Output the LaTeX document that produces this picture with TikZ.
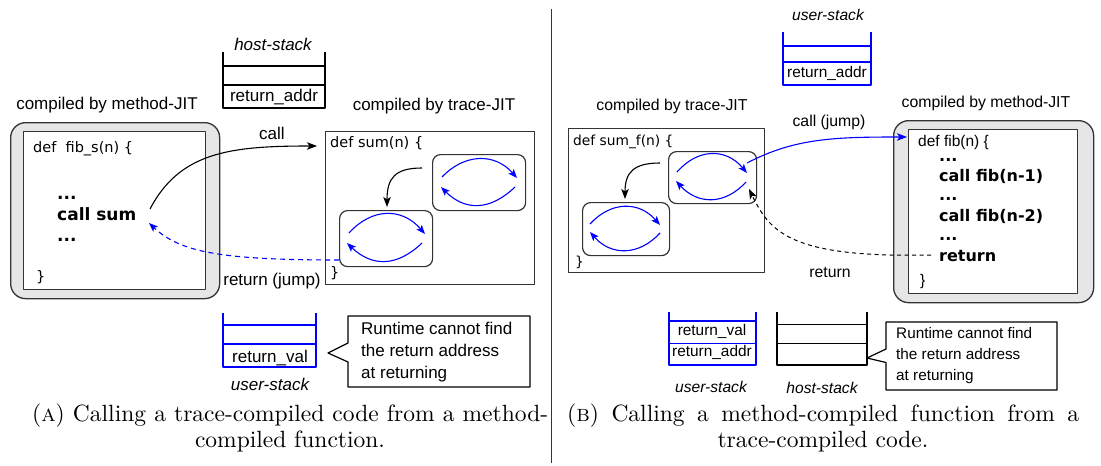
\documentclass[tikz,border=0pt]{standalone}
\usepackage{fontspec}
\newfontfamily\lsans{Liberation Sans}
\newfontfamily\dsans{DejaVu Sans}
\newfontfamily\capfont{lmroman10-regular}[Extension=.otf]
\newfontfamily\capsc{lmromancaps10-regular}[Extension=.otf]
\usetikzlibrary{arrows.meta}
\definecolor{boxgray}{HTML}{E6E6E6}
\definecolor{edgec}{HTML}{333333}
\definecolor{pblue}{HTML}{0000FF}
\tikzset{
  txt/.style={inner sep=0pt, anchor=base},
  lab/.style={txt, font=\lsans\fontsize{17}{20}\selectfont},
  labI/.style={txt, font=\lsans\itshape\fontsize{17}{20}\selectfont},
  labR/.style={txt, font=\lsans\fontsize{15.8}{19}\selectfont},
  labRI/.style={txt, font=\lsans\itshape\fontsize{15.6}{19}\selectfont},
  stk/.style={txt, font=\lsans\fontsize{15.4}{18}\selectfont},
  codeL/.style={inner sep=0pt, anchor=base west, font=\dsans\fontsize{14.5}{17}\selectfont},
  codeB/.style={inner sep=0pt, anchor=base west, font=\dsans\bfseries\fontsize{17}{20}\selectfont},
  codeBR/.style={inner sep=0pt, anchor=base west, font=\dsans\bfseries\fontsize{16}{19}\selectfont},
  captxt/.style={inner sep=0pt, anchor=base, font=\capfont\fontsize{23.5}{28}\selectfont},
  methout/.style={draw=edgec, fill=boxgray, line width=1.3pt, rounded corners=15pt, inner sep=0pt, anchor=north west},
  methin/.style={draw=edgec, fill=white, line width=1.3pt, inner sep=0pt, anchor=north west},
  tracebox/.style={draw=edgec, line width=1.2pt, inner sep=0pt, anchor=north west},
  loopbox/.style={draw=edgec, line width=1.2pt, rounded corners=8pt, inner sep=0pt, anchor=north west},
  loopar/.style={draw=pblue, line width=1.1pt, -{Stealth[length=9pt,width=7pt,inset=2pt]}},
  blkar/.style={draw=black, line width=1.1pt, -{Stealth[length=10pt,width=7.5pt,inset=2.5pt]}},
  stkK/.style={draw=black, line width=1.6pt},
  stkB/.style={draw=pblue, line width=1.6pt},
  callout/.style={draw=black, line width=1.2pt},
}
\begin{document}
\begin{tikzpicture}[x=1pt,y=-1pt, line join=round]
\useasboundingbox (0,0) rectangle (1101,466);

% ================= LEFT PANEL =================
% host stack
\node[labI] (hs1) at (273,50) {host-stack};
\draw[stkK] (223,52) -- (223,108) -- (325,108) -- (325,52);
\draw[stkK] (223,66) -- (325,66) (223,85) -- (325,85);
\node[lab] (hs1ra) at (274,101) {return\_addr};

% method box
\node[lab] (m1title) at (107,109) {compiled by method-JIT};
\node[methout, minimum width=209pt, minimum height=176pt] (m1out) at (10,122) {};
\node[methin, minimum width=182pt, minimum height=158pt] (m1in) at (23,131) {};
\node[codeL] (m1def) at (33,152) {def\ \ fib\_s(n) \{};
\node[codeB] (m1d1) at (57,199) {...};
\node[codeB] (m1call) at (57,220) {call sum};
\node[codeB] (m1d2) at (57,241) {...};
\node[codeL] (m1end) at (36,281) {\}};

% trace box
\node[lab] (t1title) at (434,110) {compiled by trace-JIT};
\node[tracebox, minimum width=209pt, minimum height=153pt] (t1) at (325,131) {};
\node[codeL] (t1def) at (330,147) {def sum(n) \{};
\node[codeL] (t1end) at (330,277) {\}};
\node[loopbox, minimum width=93pt, minimum height=56pt] (t1a) at (432,154) {};
\node[loopbox, minimum width=93pt, minimum height=56pt] (t1b) at (339,210) {};
\draw[loopar] (442,177) .. controls (465,153) and (495,153) .. (517,178);
\draw[loopar] (515,187) .. controls (490,211) and (465,211) .. (441,187);
\draw[loopar] (349,233) .. controls (372,207.5) and (402,207.5) .. (425,234);
\draw[loopar] (422,243) .. controls (397,267) and (372,267) .. (347,243);
\coordinate (t1aout) at (422,168);
\coordinate (t1bin) at (387,207);
\draw[blkar] (t1aout) .. controls (395,168) and (387,178) .. (t1bin);

% call / return
\node[lab] (call1) at (272,139) {call};
\node[lab] (ret1) at (272,285) {return (jump)};
\coordinate (call1s) at (150,209);
\coordinate (call1e) at (317,146);
\draw[blkar] (call1s) .. controls (180,152) and (230,146) .. (call1e);
\coordinate (ret1s) at (339,260);
\coordinate (ret1e) at (149,223);
\draw[draw=pblue, line width=1.1pt, dash pattern=on 5pt off 4pt, -{Stealth[length=9pt,width=7pt,inset=2pt]}]
  (ret1s) .. controls (220,260) and (180,252) .. (ret1e);

% user stack
\draw[stkB] (223,313) -- (223,367) -- (316,367) -- (316,313);
\draw[stkB] (223,325) -- (316,325) (223,344) -- (316,344);
\node[lab] (us1rv) at (270,362) {return\_val};
\node[labI] (us1) at (270,390) {user-stack};

% callout
\draw[callout] (348,316) -- (530,316) -- (530,387) -- (348,387) -- (348,362) -- (328,353) -- (348,343) -- cycle;
\node[inner sep=0pt, anchor=north west, align=left, font=\lsans\fontsize{17}{22}\selectfont] (co1) at (361,321.6)
  {Runtime cannot find\\the return address\\at returning};

% caption A
\node[captxt, anchor=base west] (capA1) at (32,421) {\makebox[516pt][s]{({\capsc a}) Calling a trace-compiled code from a method-}};
\node[captxt] (capA2) at (290,447) {compiled function.};

% divider
\draw[draw=edgec, line width=1pt] (551.7,9) -- (551.7,463);

% ================= RIGHT PANEL =================
% user stack top
\node[labRI] (us2) at (828,20) {user-stack};
\draw[stkB] (783,32) -- (783,85) -- (871,85) -- (871,32);
\draw[stkB] (783,46) -- (871,46) (783,62) -- (871,62);
\node[stk] (us2ra) at (827,77) {return\_addr};

% trace box
\node[labR] (t2title) at (672,110) {compiled by trace-JIT};
\node[tracebox, minimum width=196pt, minimum height=144pt] (t2) at (568,128) {};
\node[codeL, font=\dsans\fontsize{13.8}{16}\selectfont] (t2def) at (573,145) {def sum\_f(n) \{};
\node[codeL, font=\dsans\fontsize{13.8}{16}\selectfont] (t2end) at (575,266) {\}};
\node[loopbox, minimum width=88pt, minimum height=52pt] (t2a) at (668,151) {};
\node[loopbox, minimum width=87pt, minimum height=53pt] (t2b) at (582,202) {};
\draw[loopar] (677,172) .. controls (698,148) and (726,148) .. (747,173);
\draw[loopar] (746,182) .. controls (725,205) and (698,205) .. (676,181);
\draw[loopar] (590,224) .. controls (611,201) and (639,201) .. (660,225);
\draw[loopar] (660,233) .. controls (639,256) and (611,256) .. (590,232);
\coordinate (t2aout) at (660,163);
\coordinate (t2bin) at (625,199);
\draw[blkar] (t2aout) .. controls (634,163) and (625,172) .. (t2bin);

% method box
\node[labR] (m2title) at (986,107) {compiled by method-JIT};
\node[methout, minimum width=200pt, minimum height=182pt] (m2out) at (893,120) {};
\node[methin, minimum width=169pt, minimum height=164pt] (m2in) at (908,129) {};
\node[inner sep=0pt, anchor=base west, font=\lsans\fontsize{15.5}{18}\selectfont] (m2def) at (918,146) {def fib(n) \{};
\node[codeBR] (m2d1) at (939,161) {...};
\node[codeBR] (m2c1) at (939,181) {call fib(n-1)};
\node[codeBR] (m2d2) at (939,200) {...};
\node[codeBR] (m2c2) at (939,221) {call fib(n-2)};
\node[codeBR] (m2d3) at (939,240) {...};
\node[codeBR] (m2ret) at (939,261) {return};
\node[inner sep=0pt, anchor=base west, font=\lsans\fontsize{15.5}{18}\selectfont] (m2end) at (920,285) {\}};

% call / return
\node[labR] (call2) at (829,126) {call (jump)};
\node[labR] (ret2) at (830,277) {return};
\coordinate (call2s) at (747,163);
\coordinate (call2e) at (907,137);
\draw[draw=pblue, line width=1.1pt, -{Stealth[length=10pt,width=7.5pt,inset=2.5pt]}]
  (call2s) .. controls (795,138) and (835,137) .. (call2e);
\coordinate (ret2s) at (931,255);
\coordinate (ret2e) at (749,189);
\draw[draw=black, line width=1pt, dash pattern=on 4pt off 3.5pt, -{Stealth[length=10pt,width=7.5pt,inset=2.5pt]}]
  (ret2s) .. controls (790,258) and (770,232) .. (ret2e);

% bottom stacks
\draw[stkB] (669,312) -- (669,365) -- (756,365) -- (756,312);
\draw[stkB] (669,321) -- (756,321) (669,343.5) -- (756,343.5);
\node[stk] (us3rv) at (712,335) {return\_val};
\node[stk] (us3ra) at (712,356) {return\_addr};
\node[labRI] (us3) at (711,392) {user-stack};
\draw[stkK] (777,312) -- (777,365) -- (867,365) -- (867,312);
\draw[stkK] (777,324.5) -- (867,324.5) (777,343.5) -- (867,343.5);
\node[labRI] (hs3) at (822,393) {host-stack};

% callout
\draw[callout] (886,322) -- (1057,322) -- (1057,390) -- (886,390) -- (886,362.5) -- (867,358) -- (886,349) -- cycle;
\node[inner sep=0pt, anchor=north west, align=left, font=\lsans\fontsize{15.3}{21}\selectfont] (co2) at (896,326.8)
  {Runtime cannot find\\the return address\\at returning};

% caption B
\node[captxt, anchor=base west] (capB1) at (567,421) {\makebox[512pt][s]{({\capsc b}) Calling a method-compiled function from a}};
\node[captxt] (capB2) at (823,447) {trace-compiled code.};
\end{tikzpicture}
\end{document}
